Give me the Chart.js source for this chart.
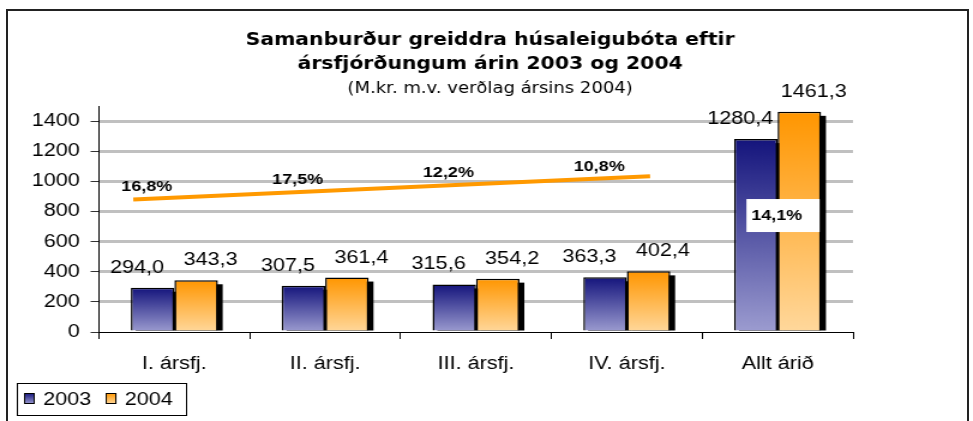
<!DOCTYPE html>
<html>
<head>
<meta charset="utf-8">
<script src="https://cdn.jsdelivr.net/npm/chart.js@4.4.1/dist/chart.umd.min.js"></script>
<style>
    body { margin: 0; background: #fff; }
    #chart { position: absolute; left: 0; top: 0; }
    #frame {
        position: absolute; left: 6px; top: 9px; width: 963px; height: 420px;
        border: 2px solid #222; border-bottom: none; box-sizing: border-box;
        pointer-events: none;
    }
</style>
</head>
<body>
<!-- the original picture is stretched sideways, so the canvas is drawn narrower and scaled up by CSS -->
<canvas id="chart" width="811" height="421" style="width:973px;height:421px"></canvas>
<div id="frame"></div>
<script>
const categories = ['I. ársfj.', 'II. ársfj.', 'III. ársfj.', 'IV. ársfj.', 'Allt árið'];
const values2003 = [294.0, 307.5, 315.6, 363.3, 1280.4];
const values2004 = [343.3, 361.4, 354.2, 402.4, 1461.3];
const growth = [16.8, 17.5, 12.2, 10.8, 14.1];
// orange line, x in category units from the left edge of the plot
const trendX = [0, 3.77];
const trendY = [880, 1033];
const titleLines = ['Samanburður greiddra húsaleigubóta eftir', 'ársfjórðungum árin 2003 og 2004'];
const subtitle = '(M.kr. m.v. verðlag ársins 2004)';

const fmt = v => v.toFixed(1).replace('.', ',');

function barGradient(top, bottom) {
    return (ctx) => {
        const chart = ctx.chart;
        if (!chart.chartArea || ctx.raw === undefined) return top;
        const y = chart.scales.y;
        const g = chart.ctx.createLinearGradient(0, y.getPixelForValue(ctx.raw), 0, y.getPixelForValue(0));
        g.addColorStop(0, top);
        g.addColorStop(1, bottom);
        return g;
    };
}

const colors = [['#14147c', '#9c9cd0'], ['#ff9600', '#ffd89c']];

const decorations = {
    id: 'decorations',
    beforeDatasetsDraw(chart) {
        const ctx = chart.ctx, area = chart.chartArea;
        ctx.save();
        ctx.beginPath();
        ctx.rect(area.left, area.top, area.right - area.left, area.bottom - area.top);
        ctx.clip();
        ctx.fillStyle = '#000';
        [0, 1].forEach(di => {
            chart.getDatasetMeta(di).data.forEach(bar => {
                const p = bar.getProps(['x', 'y', 'base', 'width'], true);
                ctx.fillRect(p.x - p.width / 2 + 4, p.y + 4, p.width, p.base - p.y - 4);
            });
        });
        ctx.restore();
    },
    afterDatasetsDraw(chart) {
        const ctx = chart.ctx, area = chart.chartArea;
        const xs = chart.scales.x, x2 = chart.scales.x2, ys = chart.scales.y;
        ctx.save();

        // orange line
        const x0 = x2.getPixelForValue(trendX[0]), y0 = ys.getPixelForValue(trendY[0]);
        const x1 = x2.getPixelForValue(trendX[1]), y1 = ys.getPixelForValue(trendY[1]);
        ctx.save();
        ctx.beginPath();
        ctx.rect(area.left, area.top, area.right - area.left, area.bottom - area.top);
        ctx.clip();
        ctx.strokeStyle = '#ff9900';
        ctx.lineWidth = 4;
        ctx.beginPath();
        ctx.moveTo(x0, y0);
        ctx.lineTo(x1, y1);
        ctx.stroke();
        ctx.restore();

        // value labels above bars
        ctx.font = '18px "Liberation Sans", Arial, sans-serif';
        ctx.fillStyle = '#000';
        ctx.textAlign = 'center';
        ctx.textBaseline = 'middle';
        [0, 1].forEach(di => {
            const dx = di === 0 ? -13 : 12;
            chart.getDatasetMeta(di).data.forEach((bar, i) => {
                ctx.fillText(fmt(chart.data.datasets[di].data[i]), bar.x + dx, bar.y - 20);
            });
        });

        // growth labels along the orange line
        ctx.font = 'bold 15px "Liberation Sans", Arial, sans-serif';
        for (let i = 0; i < 4; i++) {
            const lx = xs.getPixelForValue(i) - 23;
            const ly = y0 + (lx - x0) * (y1 - y0) / (x1 - x0) - 12;
            ctx.fillText(fmt(growth[i]) + '%', lx, ly);
        }

        // whole-year growth box
        const bx = xs.getPixelForValue(4) - 26;
        const by = ys.getPixelForValue(773) - 16.5;
        ctx.fillStyle = '#fff';
        ctx.fillRect(bx, by, 61, 33);
        ctx.fillStyle = '#000';
        ctx.textAlign = 'left';
        ctx.fillText(fmt(growth[4]) + '%', bx + 4, by + 16.5);
        ctx.restore();
    },
    afterDraw(chart) {
        const ctx = chart.ctx;
        ctx.save();

        // title, centred a little right of the canvas middle as in the original
        const cx = chart.width / 2 + 3;
        ctx.fillStyle = '#000';
        ctx.textAlign = 'center';
        ctx.textBaseline = 'alphabetic';
        ctx.font = 'bold 17px "DejaVu Sans", Verdana, sans-serif';
        ctx.fillText(titleLines[0], cx, 45);
        ctx.fillText(titleLines[1], cx, 68.5);
        ctx.font = '15px "DejaVu Sans", Verdana, sans-serif';
        ctx.fillText(subtitle, cx, 93);

        // legend in a box at bottom left
        ctx.textAlign = 'left';
        ctx.strokeStyle = '#000';
        ctx.lineWidth = 1;
        ctx.strokeRect(14.5, 383.5, 141, 32);
        ctx.font = '18px "Liberation Sans", Arial, sans-serif';
        ctx.textBaseline = 'middle';
        let x = 20;
        chart.data.datasets.forEach((ds, i) => {
            const g = ctx.createLinearGradient(0, 393, 0, 404);
            g.addColorStop(0, colors[i][0]);
            g.addColorStop(1, colors[i][1]);
            ctx.fillStyle = g;
            ctx.fillRect(x, 393, 9, 11);
            ctx.strokeRect(x + 0.5, 393.5, 8, 10);
            ctx.fillStyle = '#000';
            ctx.fillText(ds.label, x + 16, 400);
            x += 16 + ctx.measureText(ds.label).width + 12;
        });
        ctx.restore();
    }
};

new Chart(document.getElementById('chart'), {
    type: 'bar',
    data: {
        labels: categories,
        datasets: [
            {
                label: '2003',
                data: values2003,
                backgroundColor: barGradient(colors[0][0], colors[0][1]),
                borderColor: '#000',
                borderWidth: 1.5,
                categoryPercentage: 0.577,
                barPercentage: 1
            },
            {
                label: '2004',
                data: values2004,
                backgroundColor: barGradient(colors[1][0], colors[1][1]),
                borderColor: '#000',
                borderWidth: 1.5,
                categoryPercentage: 0.577,
                barPercentage: 1
            }
        ]
    },
    options: {
        responsive: false,
        animation: false,
        layout: {padding: {left: 0, right: 100, top: 106, bottom: 0}},
        plugins: {
            legend: {display: false},
            tooltip: {enabled: false},
            title: {display: false}
        },
        scales: {
            x: {
                type: 'category',
                afterFit: (s) => { s.height = 89; },
                grid: {drawOnChartArea: false, drawTicks: true, tickLength: 7, tickColor: '#000', offset: true},
                border: {color: '#000', width: 1},
                ticks: {color: '#000', padding: 14, font: {family: '"Liberation Sans", Arial, sans-serif', size: 18}}
            },
            x2: {type: 'linear', position: 'bottom', min: 0, max: 5, display: false},
            y: {
                type: 'linear',
                min: 0,
                max: 1500,
                afterFit: (s) => { s.width = 82.5; },
                grid: {
                    color: (c) => c.tick && c.tick.value === 0 ? 'rgba(0,0,0,0)' : '#c0c0c0',
                    lineWidth: 3,
                    tickLength: 7,
                    tickColor: '#333',
                    tickWidth: 1
                },
                border: {color: '#000', width: 1},
                ticks: {
                    stepSize: 200,
                    includeBounds: false,
                    color: '#000',
                    padding: 9,
                    font: {family: '"Liberation Sans", Arial, sans-serif', size: 18},
                    callback: (v) => String(v)
                }
            }
        }
    },
    plugins: [decorations]
});
</script>
</body>
</html>
